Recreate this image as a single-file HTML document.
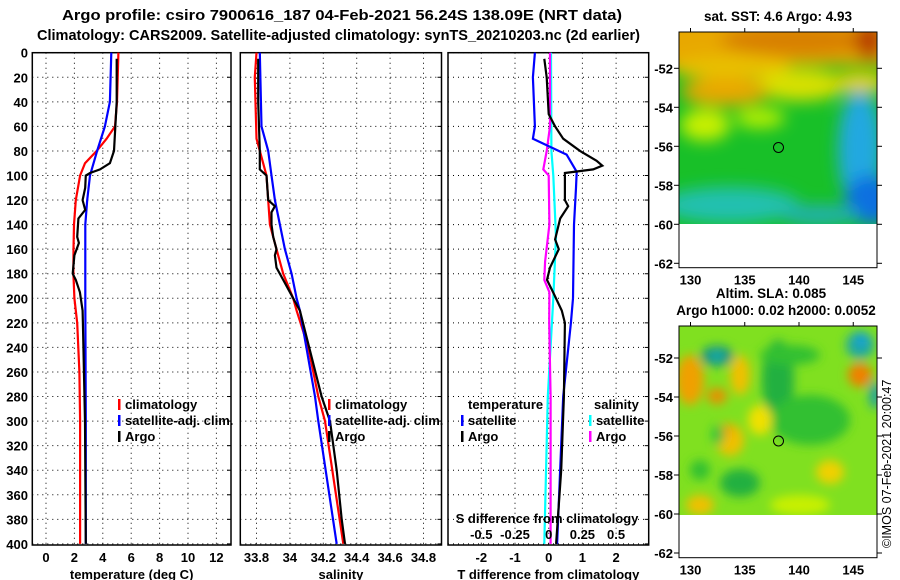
<!DOCTYPE html>
<html><head><meta charset="utf-8">
<style>
html,body{margin:0;padding:0;background:#fff;}
svg{display:block;font-family:"Liberation Sans",Arial,sans-serif;font-weight:bold;}
</style></head>
<body>
<svg id="fig" width="900" height="580" viewBox="0 0 900 580" xmlns="http://www.w3.org/2000/svg">
<defs>
<filter id="blur4" x="-50%" y="-50%" width="200%" height="200%"><feGaussianBlur stdDeviation="5"/></filter>
<filter id="blur8" x="-50%" y="-50%" width="200%" height="200%"><feGaussianBlur stdDeviation="8"/></filter>
<clipPath id="clipTop"><rect x="679" y="32" width="198" height="192"/></clipPath>
<clipPath id="clipBot"><rect x="679" y="326" width="198" height="189"/></clipPath>
</defs>
<text x="62" y="20" font-size="15" textLength="560" lengthAdjust="spacingAndGlyphs">Argo profile: csiro 7900616_187 04-Feb-2021 56.24S 138.09E (NRT data)</text>
<text x="37" y="40" font-size="15" textLength="603" lengthAdjust="spacingAndGlyphs">Climatology: CARS2009. Satellite-adjusted climatology: synTS_20210203.nc (2d earlier)</text>
<g id="panels"></g>
<g id="maps">
 <g clip-path="url(#clipTop)">
  <rect x="679" y="32" width="198" height="192" fill="#18c028"/>
  <g filter="url(#blur8)">
   <rect x="660" y="10" width="240" height="55" fill="#e8a800"/>
   <ellipse cx="800" cy="40" rx="80" ry="16" fill="#d88000"/>
   <ellipse cx="870" cy="40" rx="15" ry="20" fill="#b84000"/>
   <ellipse cx="730" cy="68" rx="60" ry="12" fill="#e8c000"/>
   <ellipse cx="800" cy="85" rx="45" ry="16" fill="#d8e000"/>
   <ellipse cx="860" cy="82" rx="30" ry="10" fill="#e8d000"/>
   <ellipse cx="725" cy="92" rx="45" ry="14" fill="#e8a800"/>
   <ellipse cx="705" cy="125" rx="25" ry="16" fill="#c8f000"/>
   <ellipse cx="760" cy="118" rx="25" ry="10" fill="#b8f000"/>
   <ellipse cx="730" cy="205" rx="70" ry="18" fill="#20c0b0"/>
   <ellipse cx="860" cy="150" rx="22" ry="60" fill="#20a8e0"/>
   <ellipse cx="870" cy="200" rx="25" ry="25" fill="#1070e0"/>
   <ellipse cx="820" cy="215" rx="40" ry="10" fill="#20b0b0"/>
  </g>
 </g>
 <rect x="679" y="32" width="198" height="235.7" fill="none" stroke="#000" stroke-width="1"/>
 <circle cx="778.5" cy="147.5" r="5" fill="none" stroke="#000" stroke-width="1"/>
 <g clip-path="url(#clipBot)">
  <rect x="679" y="326" width="198" height="189" fill="#80e020"/>
  <g filter="url(#blur4)">
   <ellipse cx="690" cy="380" rx="14" ry="25" fill="#f0a000"/>
   <ellipse cx="717" cy="356" rx="16" ry="10" fill="#109080"/>
   <ellipse cx="717" cy="356" rx="7" ry="5" fill="#20b0b0"/>
   <ellipse cx="740" cy="375" rx="10" ry="20" fill="#f0c000"/>
   <ellipse cx="717" cy="396" rx="10" ry="8" fill="#e89000"/>
   <ellipse cx="778" cy="380" rx="16" ry="40" fill="#20b040"/>
   <ellipse cx="790" cy="355" rx="30" ry="10" fill="#30c030"/>
   <ellipse cx="810" cy="420" rx="40" ry="25" fill="#30c030"/>
   <ellipse cx="860" cy="345" rx="14" ry="14" fill="#20a8a0"/>
   <ellipse cx="862" cy="340" rx="6" ry="6" fill="#10a0e0"/>
   <ellipse cx="860" cy="375" rx="12" ry="12" fill="#f08000"/>
   <ellipse cx="875" cy="395" rx="6" ry="14" fill="#20a0a0"/>
   <ellipse cx="730" cy="440" rx="14" ry="16" fill="#f0c000"/>
   <ellipse cx="727" cy="430" rx="6" ry="6" fill="#f0a000"/>
   <ellipse cx="718" cy="435" rx="6" ry="10" fill="#20c040"/>
   <ellipse cx="740" cy="483" rx="20" ry="14" fill="#20b040"/>
   <ellipse cx="830" cy="472" rx="14" ry="12" fill="#f0d000"/>
   <ellipse cx="700" cy="505" rx="14" ry="10" fill="#f0c000"/>
   <ellipse cx="800" cy="505" rx="30" ry="10" fill="#c8f000"/>
   <ellipse cx="700" cy="470" rx="10" ry="10" fill="#30c030"/>
   <ellipse cx="760" cy="420" rx="12" ry="15" fill="#f0e000"/>
  </g>
 </g>
 <rect x="679" y="326" width="198" height="231.7" fill="none" stroke="#000" stroke-width="1"/>
 <circle cx="778.5" cy="441" r="5" fill="none" stroke="#000" stroke-width="1"/>
 <text x="778" y="21" text-anchor="middle" font-size="13.5">sat. SST: 4.6 Argo: 4.93</text>
 <text x="771" y="298" text-anchor="middle" font-size="13.5">Altim. SLA: 0.085</text>
 <text x="776" y="315" text-anchor="middle" font-size="13.5">Argo h1000: 0.02 h2000: 0.0052</text>
 <text transform="translate(891,548) rotate(-90)" font-size="12.5" font-weight="normal">©IMOS 07-Feb-2021 20:00:47</text>
 <g id="mapticks"></g>
</g>
</svg>
<script>
// ---- data arrays ----
const tempClimDepth = [0,20,40,60,70,80,90,100,120,140,160,180,200,220,260,300,400];
const tempClimVal   = [5.1,5.05,5.0,4.86,4.27,3.57,2.75,2.4,2.1,1.97,1.94,1.93,2.0,2.2,2.35,2.4,2.4];
const tempSatDepth  = [0,20,40,60,80,100,120,140,200,300,400];
const tempSatVal    = [4.6,4.55,4.5,4.15,3.6,3.1,2.9,2.77,2.77,2.8,2.8];
const tempArgoDepth = [5,40,80,90,95,98,100,110,120,128,135,150,155,165,180,185,195,210,220,300,400];
const tempArgoVal   = [4.98,4.98,4.79,4.5,3.8,3.1,2.8,2.76,2.58,2.76,2.28,2.2,2.32,2.0,1.88,2.1,2.39,2.58,2.6,2.75,2.8];

const salClimDepth = [0,20,70,85,100,120,140,160,180,200,210,240,280,300,400];
const salClimVal   = [33.80,33.79,33.80,33.83,33.86,33.87,33.88,33.92,33.96,34.02,34.04,34.11,34.17,34.21,34.32];
const salSatDepth  = [0,60,80,100,120,140,160,180,200,210,280,300,400];
const salSatVal    = [33.82,33.83,33.87,33.89,33.91,33.94,33.97,34.01,34.04,34.06,34.15,34.17,34.28];
const salArgoDepth = [5,40,80,95,100,120,125,130,140,150,160,165,175,185,195,210,280,300,340,380,400];
const salArgoVal   = [33.81,33.81,33.82,33.82,33.86,33.87,33.91,33.89,33.89,33.90,33.92,33.91,33.92,33.96,34.00,34.06,34.19,34.24,34.28,34.31,34.33];

const dTSatDepth  = [0,20,60,70,83,97,110,140,200,220,280,400];
const dTSatVal    = [-0.41,-0.47,-0.41,-0.47,0.53,0.83,0.81,0.75,0.72,0.66,0.43,0.25];
const dTArgoDepth = [5,20,50,60,70,80,88,92,95,98,120,125,135,152,160,175,185,195,210,220,280,340,400];
const dTArgoVal   = [-0.13,-0.06,0,0.19,0.43,0.93,1.42,1.59,1.32,0.48,0.48,0.58,0.34,0.19,0.3,0.04,-0.05,0.13,0.39,0.48,0.45,0.37,0.22];
const dSSatDepth  = [0,80,100,150,200,280,400];
const dSSatVal    = [0.017,0.02,0.034,0.054,0.034,-0.007,-0.033];
const dSArgoDepth = [0,60,80,95,100,140,170,185,195,220,280,400];
const dSArgoVal   = [0.01,0.01,-0.015,-0.04,0,0.005,-0.027,-0.033,0.005,0.004,0.014,0.014];

const depthTicks = [0,20,40,60,80,100,120,140,160,180,200,220,240,260,280,300,320,340,360,380,400];
const tempTicks = [0,2,4,6,8,10,12];
const salTicks = [33.8,34,34.2,34.4,34.6,34.8];
const salTickLabels = ["33.8","34","34.2","34.4","34.6","34.8"];
const dTTicks = [-2,-1,0,1,2];
const dSTicks = [-0.5,-0.25,0,0.25,0.5];
const lonTicks = [130,135,140,145];
const latTicks = [-52,-54,-56,-58,-60,-62];

// ---- scales ----
const NS="http://www.w3.org/2000/svg";
const FS=13;
const yD = d => 52.7 + d*1.228;
const xT = t => 46 + t*14.2;
const xS = s => 256.5 + (s-33.8)*167;
const xDT = t => 548.7 + t*33.7;
const xDS = s => 548.7 + s*4*33.7;

const root = document.getElementById('panels');
function el(tag, attrs, parent){const e=document.createElementNS(NS,tag);for(const k in attrs)e.setAttribute(k,attrs[k]);(parent||root).appendChild(e);return e;}

function panel(name,x0,x1,xs,xticks,xlabels,xtitle,showDepth){
  const g=el('g',{});
  
  
  depthTicks.forEach(d=>{
    const l=el('line',{x1:x0,x2:x1,y1:yD(d),y2:yD(d),stroke:'#000','stroke-width':1,'stroke-dasharray':'1,4'},g);
    
    
    const tk=el('line',{x1:x1-4,x2:x1,y1:yD(d),y2:yD(d),stroke:'#000'},g);
    
    
    if(showDepth){
      const t=el('text',{x:28,y:yD(d)+5,'text-anchor':'end','font-size':FS},g);
      t.textContent=d;
      
      
    }
  });
  xticks.forEach((v,i)=>{
    const x=xs(v);
    const l=el('line',{x1:x,x2:x,y1:52.7,y2:545,stroke:'#000','stroke-dasharray':'1,4'},g);
    
    
    if(xlabels){
      const t=el('text',{x:x,y:562,'text-anchor':'middle','font-size':FS},g);
      t.textContent=xlabels[i];
      
      
    }
  });
  const fr=el('rect',{x:x0,y:52.7,width:x1-x0,height:545-52.7,fill:'none',stroke:'#000','stroke-width':1.5},g);
  
  
  const tt=el('text',{x:(x0+x1)/2,y:579,'text-anchor':'middle','font-size':FS},g);
  tt.textContent=xtitle;
  
  
  return g;
}
function series(g,depths,vals,xs,color,name){
  const pts=depths.map((d,i)=>xs(vals[i]).toFixed(1)+','+yD(d).toFixed(1)).join(' ');
  const p=el('polyline',{points:pts,fill:'none',stroke:color,'stroke-width':2.2},g);
  
  
}
function legend(g,x,y,color,label,name){
  el('rect',{x:x,y:y-10,width:2.5,height:11,fill:color},g);
  const t=el('text',{x:x+7,y:y,'font-size':FS},g);
  t.textContent=label;
  
  
}

const g1=panel('temperature-panel',32.3,231,xT,tempTicks,tempTicks.map(String),'temperature (deg C)',true);
series(g1,tempClimDepth,tempClimVal,xT,'#f00','temp-climatology-line');
series(g1,tempSatDepth,tempSatVal,xT,'#00f','temp-satellite-line');
series(g1,tempArgoDepth,tempArgoVal,xT,'#000','temp-argo-line');
legend(g1,118,409,'#f00','climatology','legend-climatology');
legend(g1,118,425,'#00f','satellite-adj. clim.','legend-satellite');
legend(g1,118,441,'#000','Argo','legend-argo');

const g2=panel('salinity-panel',240.3,441.5,xS,salTicks,salTickLabels,'salinity',false);
series(g2,salClimDepth,salClimVal,xS,'#f00','sal-climatology-line');
series(g2,salSatDepth,salSatVal,xS,'#00f','sal-satellite-line');
series(g2,salArgoDepth,salArgoVal,xS,'#000','sal-argo-line');
legend(g2,328,409,'#f00','climatology','legend-climatology');
legend(g2,328,425,'#00f','satellite-adj. clim.','legend-satellite');
legend(g2,328,441,'#000','Argo','legend-argo');

const g3=panel('difference-panel',448,648.7,xDT,dTTicks,dTTicks.map(String),'T difference from climatology',false);
series(g3,dSSatDepth,dSSatVal,xDS,'#0ff','s-diff-satellite-line');
series(g3,dSArgoDepth,dSArgoVal,xDS,'#f0f','s-diff-argo-line');
series(g3,dTSatDepth,dTSatVal,xDT,'#00f','t-diff-satellite-line');
series(g3,dTArgoDepth,dTArgoVal,xDT,'#000','t-diff-argo-line');
{
 const t=el('text',{x:468,y:409,'font-size':FS},g3);t.textContent='temperature';
 
 
 const s=el('text',{x:594,y:409,'font-size':FS},g3);s.textContent='salinity';
 
 
}
legend(g3,461,425,'#00f','satellite','legend-t-satellite');
legend(g3,461,441,'#000','Argo','legend-t-argo');
legend(g3,589,425,'#0ff','satellite','legend-s-satellite');
legend(g3,589,441,'#f0f','Argo','legend-s-argo');
{
 const t=el('text',{x:547,y:523,'text-anchor':'middle','font-size':FS},g3);t.textContent='S difference from climatology';
 
 
 dSTicks.forEach(v=>{
   const l=el('text',{x:xDS(v),y:539,'text-anchor':'middle','font-size':FS},g3);
   l.textContent=String(v);
   
   
 });
}

const mt=document.getElementById('mapticks');
function mapAxes(top,lat52y,bottom){
  const latScale=19.5;
  latTicks.forEach(la=>{
    const y=lat52y+(-52-la)*latScale;
    const t=el('text',{x:673,y:y+5,'text-anchor':'end','font-size':FS},mt);
    t.textContent=la;
    
    
    el('line',{x1:877,x2:882,y1:y,y2:y,stroke:'#000'},mt);
    el('line',{x1:674,x2:679,y1:y,y2:y,stroke:'#000'},mt);
  });
  lonTicks.forEach(lo=>{
    const x=690.5+(lo-130)*10.85;
    const t=el('text',{x:x,y:bottom+17,'text-anchor':'middle','font-size':FS},mt);
    t.textContent=lo;
    
    
    el('line',{x1:x,x2:x,y1:top-4,y2:top,stroke:'#000'},mt);
  });
}
mapAxes(32,68.3,267.7);
mapAxes(326,358,557.7);
</script>
</body></html>
